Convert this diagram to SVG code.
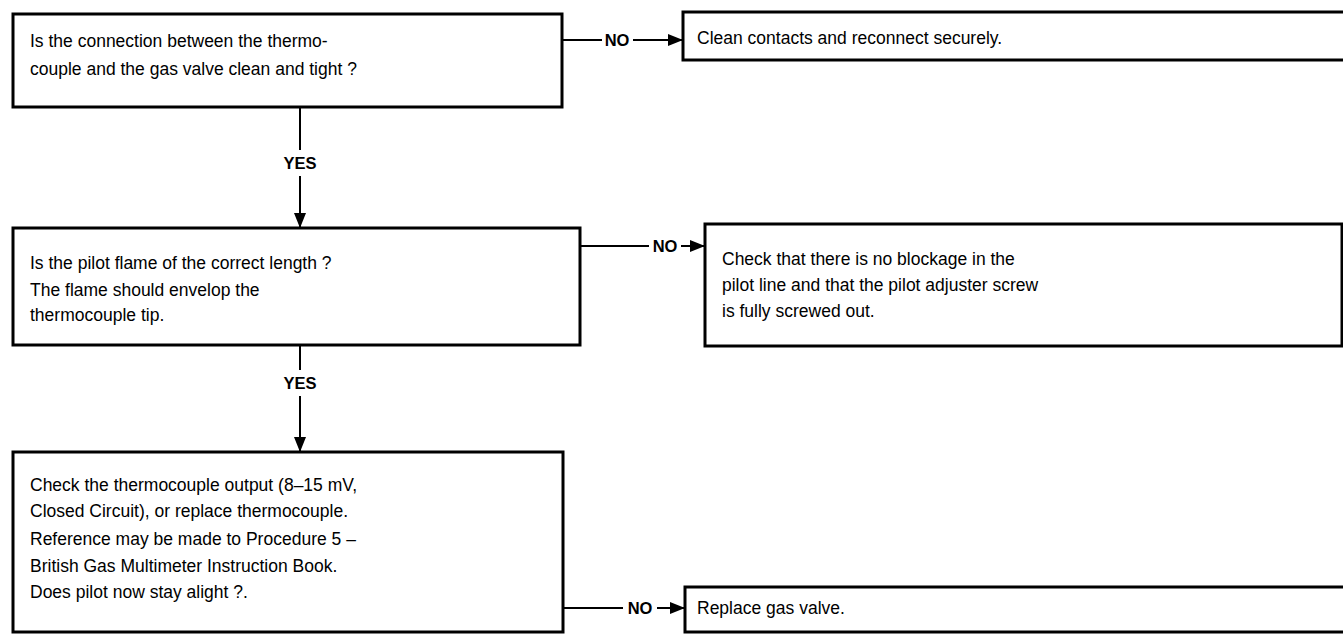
<svg xmlns="http://www.w3.org/2000/svg" width="1343" height="634" viewBox="0 0 1343 634">
<style>
.box{fill:#fff;stroke:#000;stroke-width:3}
.t{font-family:"Liberation Sans",Arial,sans-serif;font-size:17.5px;fill:#000}
.lbl{font-family:"Liberation Sans",Arial,sans-serif;font-size:16.5px;font-weight:bold;fill:#000}
.c{stroke:#000;stroke-width:2;fill:none}
</style>
<defs>
<marker id="ah" viewBox="0 0 15 12" refX="15" refY="6" markerWidth="15" markerHeight="12" markerUnits="userSpaceOnUse" orient="auto">
<path d="M0,0 L15,6 L0,12 Z" fill="#000"/>
</marker>
</defs>
<rect width="1343" height="634" fill="#fff"/>
<g id="connectors">
<line class="c" x1="562" y1="40" x2="602" y2="40"/>
<line class="c" x1="633" y1="40" x2="683" y2="40" marker-end="url(#ah)"/>
<text class="lbl" x="617" y="46" text-anchor="middle">NO</text>
<line class="c" x1="580" y1="246" x2="649" y2="246"/>
<line class="c" x1="681" y1="246" x2="705" y2="246" marker-end="url(#ah)"/>
<text class="lbl" x="665" y="252" text-anchor="middle">NO</text>
<line class="c" x1="563" y1="608" x2="623" y2="608"/>
<line class="c" x1="657" y1="608" x2="685" y2="608" marker-end="url(#ah)"/>
<text class="lbl" x="640" y="614" text-anchor="middle">NO</text>
<line class="c" x1="300" y1="107" x2="300" y2="150"/>
<line class="c" x1="300" y1="176" x2="300" y2="228" marker-end="url(#ah)"/>
<text class="lbl" x="300" y="169" text-anchor="middle">YES</text>
<line class="c" x1="300" y1="345" x2="300" y2="370"/>
<line class="c" x1="300" y1="396" x2="300" y2="452" marker-end="url(#ah)"/>
<text class="lbl" x="300" y="389" text-anchor="middle">YES</text>
</g>
<g id="n1">
<rect class="box" x="13" y="14" width="549" height="93"/>
<text class="t" x="30" y="47">Is the connection between the thermo-</text>
<text class="t" x="30" y="75">couple and the gas valve clean and tight ?</text>
</g>
<g id="n2">
<rect class="box" x="683" y="12" width="662" height="48"/>
<text class="t" x="697" y="44">Clean contacts and reconnect securely.</text>
</g>
<g id="n3">
<rect class="box" x="13" y="228" width="567" height="117"/>
<text class="t" x="30" y="269">Is the pilot flame of the correct length ?</text>
<text class="t" x="30" y="296">The flame should envelop the</text>
<text class="t" x="30" y="321">thermocouple tip.</text>
</g>
<g id="n4">
<rect class="box" x="705" y="224" width="637" height="122"/>
<text class="t" x="722" y="265">Check that there is no blockage in the</text>
<text class="t" x="722" y="291">pilot line and that the pilot adjuster screw</text>
<text class="t" x="722" y="317">is fully screwed out.</text>
</g>
<g id="n5">
<rect class="box" x="13" y="452" width="550" height="180"/>
<text class="t" x="30" y="491">Check the thermocouple output (8–15 mV,</text>
<text class="t" x="30" y="517">Closed Circuit), or replace thermocouple.</text>
<text class="t" x="30" y="545">Reference may be made to Procedure 5 –</text>
<text class="t" x="30" y="572">British Gas Multimeter Instruction Book.</text>
<text class="t" x="30" y="598">Does pilot now stay alight ?.</text>
</g>
<g id="n6">
<rect class="box" x="685" y="587" width="660" height="45"/>
<text class="t" x="697" y="614">Replace gas valve.</text>
</g>
</svg>
